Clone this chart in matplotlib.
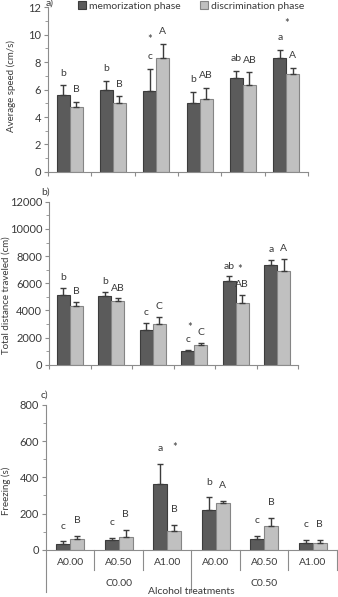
import numpy as np
import matplotlib
matplotlib.use("Agg")
from matplotlib import pyplot as plt
from matplotlib.ticker import MultipleLocator

plt.rcParams['font.family'] = ['Lato', 'DejaVu Sans']

# data
groups = ['A0.00', 'A0.50', 'A1.00', 'A0.00', 'A0.50', 'A1.00']
conc = ['C0.00', 'C0.50']

speed_mem = [5.6, 6.0, 5.9, 5.0, 6.85, 8.3]
speed_mem_err = [0.7, 0.65, 1.6, 0.8, 0.5, 0.6]
speed_dis = [4.75, 5.0, 8.3, 5.3, 6.35, 7.15]
speed_dis_err = [0.35, 0.5, 1.05, 0.8, 0.9, 0.45]
speed_mem_let = ['b', 'b', 'c', 'b', 'ab', 'a']
speed_dis_let = ['B', 'B', 'A', 'AB', 'AB', 'A']

dist_mem = [5140, 5065, 2560, 1010, 6150, 7380]
dist_mem_err = [510, 300, 510, 90, 370, 340]
dist_dis = [4330, 4670, 2975, 1450, 4550, 6935]
dist_dis_err = [290, 220, 540, 150, 610, 870]
dist_mem_let = ['b', 'b', 'c', 'c', 'ab', 'a']
dist_dis_let = ['B', 'AB', 'C', 'C', 'AB', 'A']

frz_mem = [31, 53, 362, 221, 59, 37]
frz_mem_err = [15, 13, 112, 68, 16, 16]
frz_dis = [62, 70, 105, 261, 129, 39]
frz_dis_err = [17, 40, 33, 7, 48, 16]
frz_mem_let = ['c', 'c', 'a', 'b', 'c', 'c']
frz_dis_let = ['B', 'B', 'B', 'A', 'B', 'B']

dark = '#5b5b5b'
dark_edge = '#3c3c3c'
light = '#c0c0c0'
light_edge = '#858585'
txt = '#3a3a3a'
spine = '#8c8c8c'

fig = plt.figure(figsize=(3.38, 5.97), dpi=100)

def panel(rect, mem, mem_err, dis, dis_err, mem_let, dis_let, ymax, major, minor, ylabel, labxy, pad, w):
    ax = fig.add_axes(rect)
    x = np.arange(len(mem))
    ax.bar(x - w / 2, mem, w, color=dark, edgecolor=dark_edge, linewidth=0.8, label='memorization phase')
    ax.bar(x + w / 2, dis, w, color=light, edgecolor=light_edge, linewidth=0.8, label='discrimination phase')
    ax.errorbar(x - w / 2, mem, yerr=[np.zeros(len(mem)), mem_err], fmt='none',
                ecolor=dark_edge, elinewidth=1.0, capsize=2.5, capthick=1.0)
    ax.errorbar(x + w / 2, dis, yerr=[np.zeros(len(dis)), dis_err], fmt='none',
                ecolor=dark_edge, elinewidth=1.0, capsize=2.5, capthick=1.0)
    for i in range(len(mem)):
        ax.text(x[i] - w / 2, mem[i] + mem_err[i] + pad, mem_let[i], ha='center', va='center',
                fontsize=7.5, color=txt)
        ax.text(x[i] + w / 2, dis[i] + dis_err[i] + pad, dis_let[i], ha='center', va='center',
                fontsize=7.5, color=txt)
    ax.set_xlim(-0.5, len(mem) - 0.5)
    ax.set_ylim(0, ymax)
    ax.yaxis.set_major_locator(MultipleLocator(major))
    ax.yaxis.set_minor_locator(MultipleLocator(minor))
    ax.set_xticks(np.arange(len(mem) + 1) - 0.5)
    ax.set_xticklabels([])
    ax.tick_params(axis='x', length=3, color=spine, direction='out')
    ax.tick_params(axis='y', which='major', length=3, color=spine, labelsize=8, labelcolor=txt, pad=2)
    ax.tick_params(axis='y', which='minor', length=2, color=spine)
    for s in ['top', 'right']:
        ax.spines[s].set_visible(False)
    for s in ['left', 'bottom']:
        ax.spines[s].set_color(spine)
        ax.spines[s].set_linewidth(0.8)
    ax.set_ylabel(ylabel, fontsize=7, color=txt)
    ax.yaxis.set_label_coords(*labxy)
    return ax

ax1 = panel([0.142, 0.712, 0.769, 0.276], speed_mem, speed_mem_err, speed_dis, speed_dis_err,
            speed_mem_let, speed_dis_let, 12, 2, 1, 'Average speed (cm/s)', (-0.123, 0.52), 0.9, 0.3)
ax1.text(2 - 0.15, 9.65, '*', ha='center', va='center', fontsize=8, color=txt)
ax1.text(5, 10.8, '*', ha='center', va='center', fontsize=8, color=txt)
ax1.text(-0.01, 1.025, 'a)', transform=ax1.transAxes, fontsize=7.5, color=txt, va='center')

ax2 = panel([0.145, 0.389, 0.737, 0.273], dist_mem, dist_mem_err, dist_dis, dist_dis_err,
            dist_mem_let, dist_dis_let, 12000, 2000, 1000, 'Total distance traveled (cm)', (-0.153, 0.43), 750, 0.31)
ax2.text(3 - 0.12, 2720, '*', ha='center', va='center', fontsize=8, color=txt)
ax2.text(4 + 0.1, 7000, '*', ha='center', va='center', fontsize=8, color=txt)
ax2.text(-0.03, 1.06, 'b)', transform=ax2.transAxes, fontsize=7.5, color=txt, va='center')

ax3 = panel([0.136, 0.079, 0.861, 0.243], frz_mem, frz_mem_err, frz_dis, frz_dis_err,
            frz_mem_let, frz_dis_let, 800, 200, 100, 'Freezing (s)', (-0.12, 0.41), 85, 0.29)
ax3.text(2 + 0.145, 563, '*', ha='center', va='center', fontsize=8, color=txt)
ax3.text(-0.02, 1.07, 'c)', transform=ax3.transAxes, fontsize=7.5, color=txt, va='center')
ax3.tick_params(axis='x', length=0)

# multi-level category labels
tr = ax3.get_xaxis_transform()
for i, g in enumerate(groups):
    ax3.text(i, -0.09, g, transform=tr, ha='center', va='center', fontsize=7.5, color=txt)
for i in [0.5, 1.5, 3.5, 4.5, 5.5]:
    ax3.plot([i, i], [0, -0.14], transform=tr, color=spine, lw=0.8, clip_on=False)
for i in [-0.5, 2.5]:
    ax3.plot([i, i], [0, -0.29], transform=tr, color=spine, lw=0.8, clip_on=False)
ax3.text(1, -0.235, conc[0], transform=tr, ha='center', va='center', fontsize=7.5, color=txt)
ax3.text(4, -0.235, conc[1], transform=tr, ha='center', va='center', fontsize=7.5, color=txt)
ax3.text(2.5, -0.29, 'Alcohol treatments', transform=tr, ha='center', va='center', fontsize=7.5, color=txt)

handles, labels = ax1.get_legend_handles_labels()
fig.legend(handles, labels, loc='center', bbox_to_anchor=(0.565, 0.99), ncol=2, frameon=False,
           fontsize=7.5, handlelength=0.8, handleheight=0.8, handletextpad=0.3, columnspacing=1.8,
           labelcolor=txt, borderpad=0)

fig.savefig('out.png', dpi=100)
